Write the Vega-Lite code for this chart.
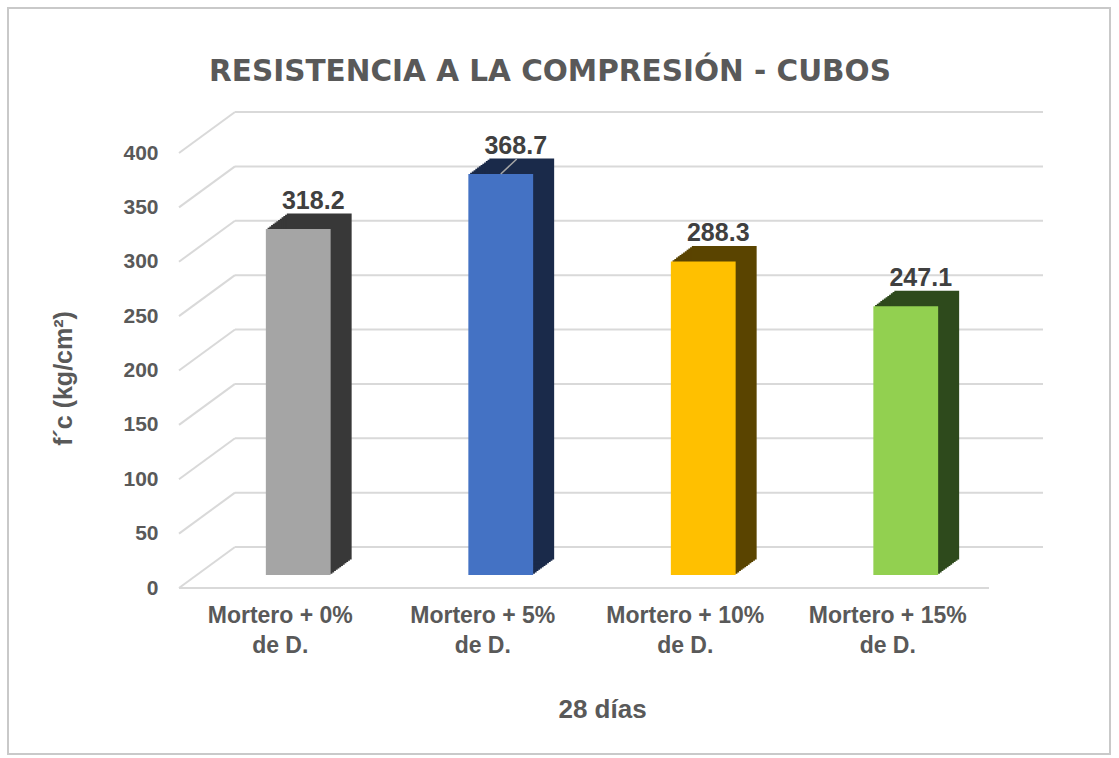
{
  "$schema": "https://vega.github.io/schema/vega-lite/v6.json",
  "width": 1102,
  "height": 746,
  "autosize": {"type": "none"},
  "padding": {"left": 8, "top": 8, "right": 9, "bottom": 4},
  "background": "white",
  "config": {"view": {"stroke": "#C9C9C9", "strokeWidth": 2}, "font": "Liberation Sans"},
  "title": {
    "text": "RESISTENCIA A LA COMPRESIÓN - CUBOS",
    "font": "DejaVu Sans",
    "fontSize": 29.5,
    "fontWeight": "bold",
    "color": "#595959",
    "anchor": "middle",
    "baseline": "alphabetic",
    "offset": 0,
    "dx": -9,
    "dy": 102
  },
  "encoding": {
    "y": {
      "field": "fc",
      "type": "quantitative",
      "scale": {"domain": [0, 400], "range": [580, 145], "nice": false, "zero": true},
      "axis": {
        "title": "f´c (kg/cm²)",
        "values": [0, 50, 100, 150, 200, 250, 300, 350, 400],
        "grid": false,
        "domain": false,
        "ticks": false,
        "offset": -171,
        "labelPadding": 21,
        "labelFont": "Liberation Sans",
        "labelFontSize": 21,
        "labelFontWeight": "bold",
        "labelColor": "#595959",
        "titleFont": "Liberation Sans",
        "titleFontSize": 25,
        "titleFontWeight": "bold",
        "titleColor": "#595959",
        "titlePadding": 46,
        "titleY": 370
      }
    }
  },
  "layer": [
    {
      "data": {"values": [{"fc": 0}, {"fc": 50}, {"fc": 100}, {"fc": 150}, {"fc": 200}, {"fc": 250}, {"fc": 300}, {"fc": 350}, {"fc": 400}]},
      "layer": [
        {
          "mark": {"type": "rule", "color": "#D9D9D9", "strokeWidth": 2, "y2Offset": -41},
          "encoding": {
            "x": {"datum": 0, "type": "quantitative", "scale": {"domain": [0, 1], "range": [171, 1035]}, "axis": null},
            "x2": {"datum": 0.0648},
            "y2": {"field": "fc"}
          }
        },
        {
          "mark": {"type": "rule", "color": "#D9D9D9", "strokeWidth": 2, "yOffset": -41},
          "encoding": {
            "x": {"datum": 0.0648, "type": "quantitative", "scale": {"domain": [0, 1], "range": [171, 1035]}, "axis": null},
            "x2": {"datum": 1}
          }
        },
        {
          "transform": [{"filter": {"field": "fc", "equal": 0}}],
          "mark": {"type": "rule", "color": "#D9D9D9", "strokeWidth": 2},
          "encoding": {
            "x": {"datum": 0, "type": "quantitative", "scale": {"domain": [0, 1], "range": [171, 1035]}, "axis": null},
            "x2": {"datum": 0.9375}
          }
        }
      ]
    },
    {
      "data": {"values": [
        {"mezcla": "Mortero + 0% de D.", "fc": 318.2},
        {"mezcla": "Mortero + 5% de D.", "fc": 368.7},
        {"mezcla": "Mortero + 10% de D.", "fc": 288.3},
        {"mezcla": "Mortero + 15% de D.", "fc": 247.1}
      ]},
      "encoding": {
        "x": {
          "field": "mezcla",
          "type": "nominal",
          "sort": null,
          "scale": {
            "domain": ["Mortero + 0% de D.", "Mortero + 5% de D.", "Mortero + 10% de D.", "Mortero + 15% de D."],
            "range": [171, 981],
            "paddingInner": 0.68,
            "paddingOuter": 0.34
          },
          "axis": {
            "title": "28 días",
            "labelAngle": 0,
            "labelExpr": "[substring(datum.label, 0, indexof(datum.label, ' de ')), substring(datum.label, indexof(datum.label, ' de ') + 1)]",
            "domain": false,
            "ticks": false,
            "grid": false,
            "offset": -166,
            "labelPadding": 16,
            "labelLimit": 300,
            "labelFont": "Liberation Sans",
            "labelFontSize": 23,
            "labelFontWeight": "bold",
            "labelColor": "#595959",
            "labelLineHeight": 30,
            "titleFont": "Liberation Sans",
            "titleFontSize": 26,
            "titleFontWeight": "bold",
            "titleColor": "#595959",
            "titlePadding": 39,
            "titleX": 594
          }
        },
        "color": {"field": "mezcla", "type": "nominal", "scale": {"domain": ["Mortero + 0% de D.", "Mortero + 5% de D.", "Mortero + 10% de D.", "Mortero + 15% de D."], "range": ["#383838", "#1A2A4A", "#5A4400", "#2E4A1C"]}, "legend": null}
      },
      "layer": [
        {"mark": {"type": "bar", "xOffset": 19.75, "yOffset": -14.29, "y2Offset": -14.29}},
        {"mark": {"type": "bar", "xOffset": 21.5, "yOffset": -15.58, "y2Offset": -15.58}},
        {"mark": {"type": "bar", "xOffset": 23.25, "yOffset": -16.88, "y2Offset": -16.88}},
        {"mark": {"type": "bar", "xOffset": 25, "yOffset": -18.17, "y2Offset": -18.17}},
        {"mark": {"type": "bar", "xOffset": 26.75, "yOffset": -19.46, "y2Offset": -19.46}},
        {"mark": {"type": "bar", "xOffset": 28.5, "yOffset": -20.75, "y2Offset": -20.75}},
        {"mark": {"type": "bar", "xOffset": 30.25, "yOffset": -22.04, "y2Offset": -22.04}},
        {"mark": {"type": "bar", "xOffset": 32, "yOffset": -23.33, "y2Offset": -23.33}},
        {"mark": {"type": "bar", "xOffset": 33.75, "yOffset": -24.63, "y2Offset": -24.63}},
        {"mark": {"type": "bar", "xOffset": 35.5, "yOffset": -25.92, "y2Offset": -25.92}},
        {"mark": {"type": "bar", "xOffset": 37.25, "yOffset": -27.21, "y2Offset": -27.21}},
        {"mark": {"type": "bar", "xOffset": 39, "yOffset": -28.5, "y2Offset": -28.5}},
        {"mark": {"type": "bar", "xOffset": 18, "yOffset": -13, "y2Offset": -13},
         "encoding": {"fill": {"field": "mezcla", "type": "nominal", "scale": {"domain": ["Mortero + 0% de D.", "Mortero + 5% de D.", "Mortero + 10% de D.", "Mortero + 15% de D."], "range": ["#A5A5A5", "#4472C4", "#FFC000", "#92D050"]}, "legend": null}}},
        {"transform": [{"filter": {"field": "mezcla", "equal": "Mortero + 5% de D."}}],
         "mark": {"type": "rule", "color": "#A6A6A6", "strokeWidth": 1.5, "xOffset": 18, "x2Offset": 34, "yOffset": -13, "y2Offset": -28},
         "encoding": {"x2": {"field": "mezcla"}, "y2": {"field": "fc"}, "color": {"value": "#A6A6A6"}}},
        {"mark": {"type": "text", "dx": 33, "dy": -41, "font": "Liberation Sans", "fontSize": 25, "fontWeight": "bold", "baseline": "middle", "align": "center"},
         "encoding": {"text": {"field": "fc", "type": "quantitative", "format": ".1f"}, "color": {"value": "#404040"}}}
      ]
    }
  ],
  "resolve": {"scale": {"x": "independent"}}
}
